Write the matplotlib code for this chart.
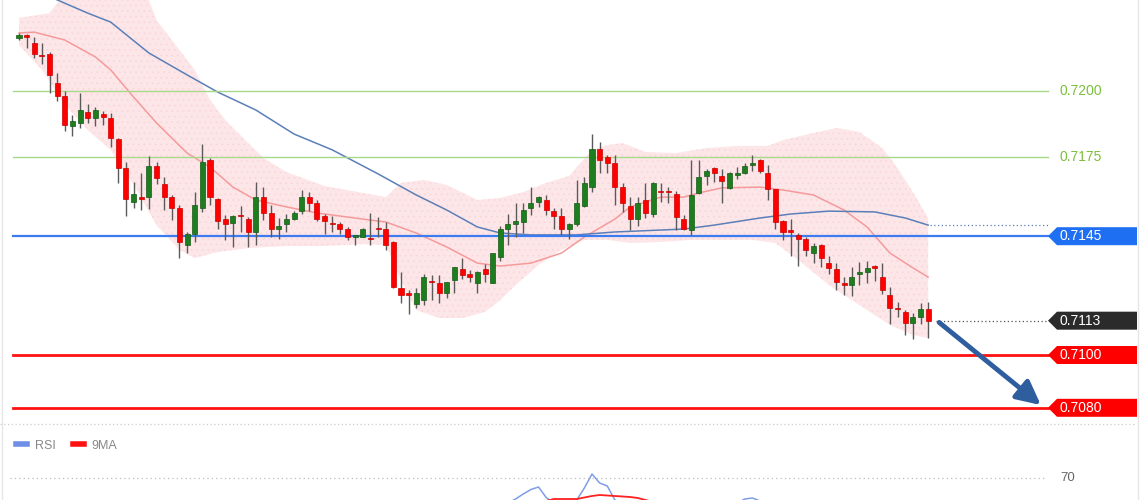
import numpy as np
import matplotlib
matplotlib.use('Agg')
import matplotlib.pyplot as plt
from matplotlib.patches import Polygon, FancyArrowPatch
from matplotlib.lines import Line2D

plt.rcParams['font.family'] = ['Liberation Sans', 'DejaVu Sans']

###############################
# Data
###############################
open_ = [0.72202, 0.72212, 0.72181, 0.72134, 0.72140, 0.72029, 0.71981, 0.71869, 0.71879, 0.71920,
         0.71899, 0.71913, 0.71899, 0.71818, 0.71710, 0.71580, 0.71600, 0.71598, 0.71717, 0.71648,
         0.71598, 0.71558, 0.71417, 0.71458, 0.71557, 0.71739, 0.71591, 0.71515, 0.71500, 0.71528,
         0.71515, 0.71466, 0.71598, 0.71539, 0.71477, 0.71496, 0.71515, 0.71545, 0.71598, 0.71577,
         0.71527, 0.71497, 0.71496, 0.71477, 0.71447, 0.71448, 0.71444, 0.71478, 0.71477, 0.71428,
         0.71254, 0.71232, 0.71193, 0.71208, 0.71278, 0.71274, 0.71235, 0.71284, 0.71326, 0.71307,
         0.71274, 0.71326, 0.71274, 0.71371, 0.71477, 0.71496, 0.71505, 0.71557, 0.71580, 0.71587,
         0.71547, 0.71528, 0.71477, 0.71496, 0.71564, 0.71636, 0.71780, 0.71750, 0.71728, 0.71638,
         0.71564, 0.71515, 0.71587, 0.71534, 0.71618, 0.71620, 0.71610, 0.71515, 0.71473, 0.71615,
         0.71678, 0.71708, 0.71678, 0.71633, 0.71682, 0.71689, 0.71720, 0.71739, 0.71689, 0.71629,
         0.71508, 0.71468, 0.71455, 0.71439, 0.71388, 0.71417, 0.71348, 0.71326, 0.71274, 0.71265,
         0.71307, 0.71316, 0.71337, 0.71297, 0.71227, 0.71175, 0.71164, 0.71122, 0.71145, 0.71174]
high = [0.72219, 0.72216, 0.72206, 0.72182, 0.72149, 0.72068, 0.72000, 0.71909, 0.71992, 0.71951,
        0.71941, 0.71924, 0.71917, 0.71822, 0.71732, 0.71656, 0.71689, 0.71755, 0.71732, 0.71675,
        0.71606, 0.71568, 0.71467, 0.71617, 0.71799, 0.71746, 0.71595, 0.71530, 0.71530, 0.71566,
        0.71524, 0.71656, 0.71638, 0.71568, 0.71519, 0.71534, 0.71545, 0.71625, 0.71619, 0.71587,
        0.71534, 0.71527, 0.71505, 0.71485, 0.71455, 0.71481, 0.71538, 0.71524, 0.71504, 0.71432,
        0.71314, 0.71246, 0.71254, 0.71307, 0.71303, 0.71303, 0.71278, 0.71334, 0.71367, 0.71322,
        0.71319, 0.71345, 0.71387, 0.71489, 0.71534, 0.71577, 0.71576, 0.71636, 0.71602, 0.71606,
        0.71557, 0.71557, 0.71501, 0.71663, 0.71674, 0.71837, 0.71808, 0.71758, 0.71758, 0.71652,
        0.71598, 0.71598, 0.71652, 0.71656, 0.71652, 0.71638, 0.71622, 0.71530, 0.71739, 0.71739,
        0.71705, 0.71713, 0.71705, 0.71694, 0.71713, 0.71728, 0.71758, 0.71742, 0.71720, 0.71629,
        0.71511, 0.71515, 0.71463, 0.71447, 0.71424, 0.71420, 0.71375, 0.71348, 0.71297, 0.71333,
        0.71353, 0.71357, 0.71341, 0.71350, 0.71258, 0.71202, 0.71170, 0.71159, 0.71197, 0.71202]
low = [0.72193, 0.72163, 0.72124, 0.72102, 0.71992, 0.71962, 0.71848, 0.71831, 0.71860, 0.71880,
       0.71869, 0.71871, 0.71789, 0.71652, 0.71528, 0.71558, 0.71549, 0.71553, 0.71648, 0.71549,
       0.71511, 0.71367, 0.71386, 0.71428, 0.71542, 0.71568, 0.71477, 0.71436, 0.71409, 0.71467,
       0.71409, 0.71417, 0.71511, 0.71448, 0.71439, 0.71467, 0.71513, 0.71534, 0.71547, 0.71508,
       0.71458, 0.71467, 0.71458, 0.71436, 0.71417, 0.71447, 0.71417, 0.71448, 0.71398, 0.71254,
       0.71197, 0.71155, 0.71178, 0.71189, 0.71208, 0.71197, 0.71216, 0.71235, 0.71288, 0.71277,
       0.71235, 0.71277, 0.71274, 0.71356, 0.71417, 0.71448, 0.71462, 0.71530, 0.71561, 0.71530,
       0.71477, 0.71455, 0.71439, 0.71489, 0.71561, 0.71617, 0.71689, 0.71691, 0.71568, 0.71543,
       0.71473, 0.71489, 0.71519, 0.71524, 0.71580, 0.71577, 0.71473, 0.71473, 0.71455, 0.71610,
       0.71644, 0.71656, 0.71577, 0.71629, 0.71667, 0.71686, 0.71698, 0.71689, 0.71587, 0.71477,
       0.71436, 0.71375, 0.71337, 0.71375, 0.71348, 0.71334, 0.71307, 0.71246, 0.71227, 0.71225,
       0.71265, 0.71274, 0.71281, 0.71231, 0.71117, 0.71145, 0.71076, 0.71061, 0.71117, 0.71064]
close = [0.72212, 0.72205, 0.72140, 0.72131, 0.72061, 0.71981, 0.71871, 0.71888, 0.71928, 0.71899,
         0.71928, 0.71902, 0.71822, 0.71708, 0.71591, 0.71610, 0.71591, 0.71717, 0.71670, 0.71598,
         0.71558, 0.71428, 0.71458, 0.71568, 0.71731, 0.71598, 0.71508, 0.71496, 0.71527, 0.71526,
         0.71466, 0.71598, 0.71539, 0.71477, 0.71489, 0.71515, 0.71539, 0.71598, 0.71577, 0.71515,
         0.71508, 0.71495, 0.71477, 0.71448, 0.71455, 0.71477, 0.71439, 0.71476, 0.71417, 0.71258,
         0.71227, 0.71229, 0.71236, 0.71295, 0.71276, 0.71235, 0.71277, 0.71334, 0.71303, 0.71295,
         0.71316, 0.71307, 0.71386, 0.71477, 0.71496, 0.71509, 0.71549, 0.71577, 0.71598, 0.71549,
         0.71528, 0.71477, 0.71496, 0.71576, 0.71652, 0.71780, 0.71739, 0.71728, 0.71638, 0.71577,
         0.71515, 0.71576, 0.71538, 0.71652, 0.71616, 0.71617, 0.71524, 0.71477, 0.71606, 0.71674,
         0.71698, 0.71689, 0.71659, 0.71689, 0.71691, 0.71716, 0.71728, 0.71698, 0.71629, 0.71504,
         0.71467, 0.71466, 0.71439, 0.71398, 0.71414, 0.71367, 0.71330, 0.71278, 0.71265, 0.71295,
         0.71316, 0.71330, 0.71330, 0.71246, 0.71178, 0.71173, 0.71122, 0.71144, 0.71174, 0.71130]

# Bollinger band edges, sampled at bar indices
bb_upper_idx = [0, 4, 5, 8, 12, 15, 17, 18, 20, 23, 25, 27, 30, 32, 35, 40, 45, 48, 50, 53, 56, 60,
                63, 66, 69, 72, 75, 77, 79, 82, 86, 90, 94, 98, 100, 104, 107, 110, 113, 115, 117, 119]
bb_upper = [0.72277, 0.72295, 0.72333, 0.72402, 0.72420, 0.72383, 0.72345, 0.72269, 0.72193, 0.72080,
            0.71966, 0.71890, 0.71803, 0.71746, 0.71693, 0.71640, 0.71614, 0.71598, 0.71652, 0.71663,
            0.71644, 0.71587, 0.71595, 0.71617, 0.71652, 0.71678, 0.71777, 0.71795, 0.71803, 0.71769,
            0.71765, 0.71784, 0.71792, 0.71792, 0.71814, 0.71841, 0.71860, 0.71845, 0.71784, 0.71708,
            0.71617, 0.71519]
bb_lower_idx = [0, 3, 6, 9, 12, 15, 18, 21, 23, 26, 30, 35, 40, 45, 48, 50, 52, 55, 58, 61, 63, 65,
                68, 71, 74, 77, 80, 84, 88, 92, 96, 99, 102, 106, 110, 114, 117, 119]
bb_lower = [0.72174, 0.72080, 0.71947, 0.71852, 0.71777, 0.71644, 0.71492, 0.71398, 0.71367, 0.71390,
            0.71405, 0.71413, 0.71413, 0.71420, 0.71417, 0.71284, 0.71170, 0.71140, 0.71140, 0.71163,
            0.71208, 0.71265, 0.71341, 0.71398, 0.71436, 0.71436, 0.71424, 0.71428, 0.71436, 0.71436,
            0.71436, 0.71424, 0.71360, 0.71265, 0.71189, 0.71114, 0.71076, 0.71064]

# middle band (red) and slow moving average (blue)
ma_mid_idx = [0, 2, 6, 10, 12, 15, 18, 22, 25, 28, 31, 35, 39, 46, 48, 52, 56, 60, 63, 67, 71, 74,
              78, 80, 84, 87, 89, 92, 97, 100, 104, 108, 111, 114, 117, 119]
ma_mid = [0.72220, 0.72223, 0.72193, 0.72129, 0.72080, 0.71977, 0.71879, 0.71765, 0.71712, 0.71636,
          0.71587, 0.71561, 0.71538, 0.71511, 0.71504, 0.71462, 0.71409, 0.71348, 0.71337, 0.71348,
          0.71386, 0.71447, 0.71515, 0.71561, 0.71598, 0.71598, 0.71614, 0.71633, 0.71636, 0.71625,
          0.71606, 0.71549, 0.71485, 0.71386, 0.71330, 0.71295]
ma_slow_idx = [3, 5, 9, 12, 17, 22, 26, 31, 36, 41, 47, 52, 56, 60, 63, 67, 73, 78, 87, 91, 97, 101,
               106, 112, 116, 119]
ma_slow = [0.72375, 0.72345, 0.72295, 0.72261, 0.72144, 0.72061, 0.71996, 0.71928, 0.71837, 0.71777,
           0.71686, 0.71606, 0.71549, 0.71485, 0.71462, 0.71455, 0.71455, 0.71466, 0.71477, 0.71492,
           0.71519, 0.71534, 0.71545, 0.71542, 0.71519, 0.71492]

resistance = [0.7200, 0.7175]
pivot = 0.7145
supports = [0.7100, 0.7080]

# RSI panel (only the top of it is visible)
rsi_start = 60
rsi = [35, 37, 36, 42, 45, 49, 54, 58.5, 61, 50.5, 45, 43, 43, 48, 60, 74, 65, 62, 48, 42,
       38, 36, 40, 38, 44, 43, 43, 38, 36, 44, 46, 45, 44, 42, 45, 49, 50, 47, 42, 38, 32]
rsi_ma = [42, 42, 42, 42.5, 43, 44, 45, 46, 46.5, 47, 49, 49, 49, 49, 50.5, 52, 53, 52.5, 52, 51.5,
          51, 50, 48, 46, 45, 44, 43, 43, 42, 42, 42, 43, 43, 44, 44, 45, 45, 45, 44, 43, 42]
rsi_level = 70


###############################
# Layout helpers
###############################
W, H = 1140, 500
BAR_PX = 7.64          # pixel distance between bars
X0_PX = 19             # pixel position of first bar
PRICE_PX = 26400       # pixels per 1.0 of price


def px(x):
    return (x - X0_PX) / BAR_PX


fig = plt.figure(figsize=(W / 100, H / 100), dpi=100)
fig.patch.set_facecolor('white')

ax = fig.add_axes([0, 80 / H, 1, 420 / H])
ax.set_xlim(px(0), px(W))
ax.set_ylim(0.7200 - 329 / PRICE_PX, 0.7200 + 91 / PRICE_PX)
ax.axis('off')

# bollinger band
poly_x = list(bb_upper_idx) + list(bb_lower_idx[::-1])
poly_y = list(bb_upper) + list(bb_lower[::-1])
plt.rcParams['hatch.linewidth'] = 0.5
ax.fill(poly_x, poly_y, facecolor='#fde6e8', edgecolor='#f9d6db', hatch='...', lw=0, zorder=1)

ax.plot(ma_mid_idx, ma_mid, color='#f59a9a', lw=1.1, zorder=2)
ax.plot(ma_slow_idx, ma_slow, color='#5b7fb8', lw=1.1, zorder=2)

# horizontal levels
for lvl in resistance:
    ax.plot([px(13), px(1048)], [lvl, lvl], color='#a8d98a', lw=1, zorder=2)
    ax.text(px(1060), lvl, f'{lvl:.4f}', color='#7cbf3c', fontsize=10, va='center', ha='left')
ax.plot([px(13), px(1048)], [pivot, pivot], color='#3d7cf0', lw=1.6, zorder=2)
for lvl in supports:
    ax.plot([px(13), px(1048)], [lvl, lvl], color='#ff1010', lw=2, zorder=2)

# candles
idx = np.arange(len(close))
o = np.array(open_)
c = np.array(close)
up = c >= o
colors = np.where(up, '#1e7d1e', '#ff0000')
edges = np.where(up, '#145a14', '#cc0000')
ax.vlines(idx, low, high, color='#5a5a5a', lw=1, zorder=3)
body_lo = np.minimum(o, c)
body_h = np.maximum(np.abs(c - o), 1.5 / PRICE_PX)
ax.bar(idx, body_h, bottom=body_lo, width=0.66, color=colors, edgecolor=edges, lw=0.5, zorder=4)

# dotted guides to the price scale
ax.plot([px(936), px(1048)], [close[-1], close[-1]], color='#555555', lw=0.9, ls=(0, (1, 2)), zorder=2)
ax.plot([px(930), px(1048)], [ma_slow[-1], ma_slow[-1]], color='#5b7fb8', lw=0.9, ls=(0, (1, 2)), zorder=2)


def tag(y, text, color):
    h = 9 / PRICE_PX
    verts = [(px(1048), y), (px(1057), y + h), (px(1137), y + h), (px(1137), y - h), (px(1057), y - h)]
    ax.add_patch(Polygon(verts, closed=True, facecolor=color, edgecolor='none', zorder=5))
    ax.text(px(1060), y, text, color='white', fontsize=10, va='center', ha='left', zorder=6)


tag(pivot, f'{pivot:.4f}', '#1f6ff2')
tag(close[-1], f'{close[-1]:.4f}', '#2b2b2b')
for lvl in supports:
    tag(lvl, f'{lvl:.4f}', '#ff0000')

# forecast arrow
arrow = FancyArrowPatch((px(937), close[-1]), (px(1043), supports[1] + 1 / PRICE_PX),
                        arrowstyle='-|>,head_length=0.6,head_width=0.3', mutation_scale=24,
                        lw=3.5, color='#2f5e9f', zorder=6)
ax.add_patch(arrow)

###############################
# RSI panel
###############################
ax2 = fig.add_axes([0, 0, 1, 77 / H])
ax2.set_xlim(px(0), px(W))
ax2.set_ylim(48, 125)
ax2.axis('off')

ridx = np.arange(rsi_start, rsi_start + len(rsi))
ax2.plot(ridx, rsi, color='#7f9de8', lw=1.1)
ax2.plot(ridx, rsi_ma, color='#ff2020', lw=1.3)
ax2.plot([px(10), px(1045)], [rsi_level, rsi_level], color='#bbbbbb', lw=0.9, ls=(0, (1, 2.5)))
ax2.text(px(1060), rsi_level, str(rsi_level), color='#666666', fontsize=9.5, va='center', ha='left')
ax2.plot([px(0), px(1135)], [124.5, 124.5], color='#cccccc', lw=0.9, ls=(0, (1, 2)), clip_on=False)

handles = [Line2D([0], [0], color='#6f8fe6', lw=4), Line2D([0], [0], color='#ff1010', lw=4)]
ax2.legend(handles, ['RSI', '9MA'], loc='upper left', bbox_to_anchor=(0.004, 0.93), frameon=False,
           ncol=2, handlelength=0.9, handletextpad=0.6, columnspacing=1.4, fontsize=9, labelcolor='#888888')

# thin frame lines at both sides
fig.add_artist(Line2D([1.5 / W, 1.5 / W], [0, 1], color='#e6e6e6', lw=1))
fig.add_artist(Line2D([1 - 2 / W, 1 - 2 / W], [0, 1], color='#e6e6e6', lw=1))

fig.savefig('out.png', dpi=100)
